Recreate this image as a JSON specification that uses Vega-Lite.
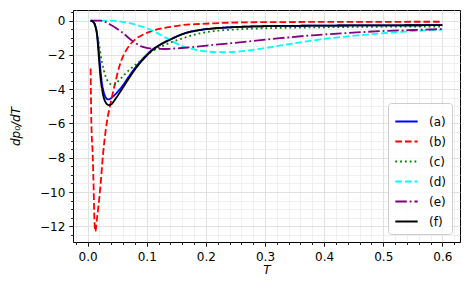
{
  "$schema": "https://vega.github.io/schema/vega-lite/v6.json",
  "width": 387,
  "height": 232,
  "autosize": {"type": "none"},
  "padding": {"left": 73, "top": 10, "right": 10, "bottom": 52},
  "background": "white",
  "config": {
    "view": {"stroke": "#000000", "strokeWidth": 1},
    "font": "DejaVu Sans",
    "axis": {
      "domain": false,
      "labelFont": "DejaVu Sans",
      "labelFontSize": 12,
      "labelColor": "#000000",
      "titleFont": "DejaVu Sans",
      "titleFontSize": 12,
      "titleFontWeight": "normal",
      "titleFontStyle": "italic",
      "titleColor": "#000000",
      "tickColor": "#000000",
      "tickWidth": 0.9,
      "gridWidth": 0.8,
      "labelOverlap": false,
      "labelFlush": false,
      "labelBound": false
    },
    "legend": {
      "labelFont": "DejaVu Sans",
      "labelFontSize": 12,
      "labelColor": "#000000"
    }
  },
  "data": {
    "values": [
      {"T": 0.005, "v": 0, "s": "(a)"},
      {"T": 0.01, "v": -0.1, "s": "(a)"},
      {"T": 0.013, "v": -0.3, "s": "(a)"},
      {"T": 0.016, "v": -0.8, "s": "(a)"},
      {"T": 0.019, "v": -1.8, "s": "(a)"},
      {"T": 0.022, "v": -3.0, "s": "(a)"},
      {"T": 0.026, "v": -4.0, "s": "(a)"},
      {"T": 0.03, "v": -4.45, "s": "(a)"},
      {"T": 0.0345, "v": -4.6, "s": "(a)"},
      {"T": 0.04, "v": -4.52, "s": "(a)"},
      {"T": 0.0468, "v": -4.3, "s": "(a)"},
      {"T": 0.058, "v": -3.85, "s": "(a)"},
      {"T": 0.069, "v": -3.3, "s": "(a)"},
      {"T": 0.0805, "v": -2.75, "s": "(a)"},
      {"T": 0.0946, "v": -2.18, "s": "(a)"},
      {"T": 0.1087, "v": -1.72, "s": "(a)"},
      {"T": 0.1256, "v": -1.34, "s": "(a)"},
      {"T": 0.1425, "v": -1.05, "s": "(a)"},
      {"T": 0.16, "v": -0.79, "s": "(a)"},
      {"T": 0.19, "v": -0.55, "s": "(a)"},
      {"T": 0.213, "v": -0.46, "s": "(a)"},
      {"T": 0.25, "v": -0.38, "s": "(a)"},
      {"T": 0.3, "v": -0.33, "s": "(a)"},
      {"T": 0.38, "v": -0.3, "s": "(a)"},
      {"T": 0.5, "v": -0.28, "s": "(a)"},
      {"T": 0.6, "v": -0.27, "s": "(a)"},

      {"T": 0.005, "v": -2.8, "s": "(b)"},
      {"T": 0.0062, "v": -5.85, "s": "(b)"},
      {"T": 0.0085, "v": -7.8, "s": "(b)"},
      {"T": 0.0101, "v": -9.75, "s": "(b)"},
      {"T": 0.0113, "v": -11.5, "s": "(b)"},
      {"T": 0.013, "v": -12.3, "s": "(b)"},
      {"T": 0.0159, "v": -11.5, "s": "(b)"},
      {"T": 0.0214, "v": -9.75, "s": "(b)"},
      {"T": 0.026, "v": -7.8, "s": "(b)"},
      {"T": 0.0328, "v": -5.85, "s": "(b)"},
      {"T": 0.0383, "v": -4.9, "s": "(b)"},
      {"T": 0.0468, "v": -3.6, "s": "(b)"},
      {"T": 0.0552, "v": -2.5, "s": "(b)"},
      {"T": 0.0665, "v": -1.66, "s": "(b)"},
      {"T": 0.0805, "v": -1.1, "s": "(b)"},
      {"T": 0.095, "v": -0.8, "s": "(b)"},
      {"T": 0.109, "v": -0.6, "s": "(b)"},
      {"T": 0.137, "v": -0.39, "s": "(b)"},
      {"T": 0.159, "v": -0.27, "s": "(b)"},
      {"T": 0.19, "v": -0.2, "s": "(b)"},
      {"T": 0.213, "v": -0.16, "s": "(b)"},
      {"T": 0.28, "v": -0.1, "s": "(b)"},
      {"T": 0.4, "v": -0.08, "s": "(b)"},
      {"T": 0.6, "v": -0.07, "s": "(b)"},

      {"T": 0.005, "v": 0, "s": "(c)"},
      {"T": 0.01, "v": -0.1, "s": "(c)"},
      {"T": 0.013, "v": -0.29, "s": "(c)"},
      {"T": 0.0186, "v": -1.27, "s": "(c)"},
      {"T": 0.0243, "v": -2.44, "s": "(c)"},
      {"T": 0.03, "v": -3.22, "s": "(c)"},
      {"T": 0.0383, "v": -3.7, "s": "(c)"},
      {"T": 0.044, "v": -3.76, "s": "(c)"},
      {"T": 0.0523, "v": -3.51, "s": "(c)"},
      {"T": 0.069, "v": -2.92, "s": "(c)"},
      {"T": 0.086, "v": -2.44, "s": "(c)"},
      {"T": 0.1087, "v": -1.8, "s": "(c)"},
      {"T": 0.1256, "v": -1.5, "s": "(c)"},
      {"T": 0.159, "v": -1.05, "s": "(c)"},
      {"T": 0.19, "v": -0.75, "s": "(c)"},
      {"T": 0.213, "v": -0.62, "s": "(c)"},
      {"T": 0.25, "v": -0.52, "s": "(c)"},
      {"T": 0.3, "v": -0.45, "s": "(c)"},
      {"T": 0.38, "v": -0.4, "s": "(c)"},
      {"T": 0.5, "v": -0.36, "s": "(c)"},
      {"T": 0.6, "v": -0.35, "s": "(c)"},

      {"T": 0.005, "v": 0, "s": "(d)"},
      {"T": 0.03, "v": 0, "s": "(d)"},
      {"T": 0.064, "v": -0.1, "s": "(d)"},
      {"T": 0.086, "v": -0.29, "s": "(d)"},
      {"T": 0.109, "v": -0.58, "s": "(d)"},
      {"T": 0.131, "v": -0.98, "s": "(d)"},
      {"T": 0.148, "v": -1.3, "s": "(d)"},
      {"T": 0.165, "v": -1.55, "s": "(d)"},
      {"T": 0.185, "v": -1.72, "s": "(d)"},
      {"T": 0.2, "v": -1.8, "s": "(d)"},
      {"T": 0.23, "v": -1.85, "s": "(d)"},
      {"T": 0.258, "v": -1.8, "s": "(d)"},
      {"T": 0.297, "v": -1.62, "s": "(d)"},
      {"T": 0.354, "v": -1.3, "s": "(d)"},
      {"T": 0.41, "v": -1.03, "s": "(d)"},
      {"T": 0.466, "v": -0.84, "s": "(d)"},
      {"T": 0.494, "v": -0.75, "s": "(d)"},
      {"T": 0.55, "v": -0.62, "s": "(d)"},
      {"T": 0.6, "v": -0.53, "s": "(d)"},

      {"T": 0.005, "v": 0, "s": "(e)"},
      {"T": 0.0215, "v": 0, "s": "(e)"},
      {"T": 0.03, "v": -0.08, "s": "(e)"},
      {"T": 0.041, "v": -0.29, "s": "(e)"},
      {"T": 0.058, "v": -0.68, "s": "(e)"},
      {"T": 0.075, "v": -1.17, "s": "(e)"},
      {"T": 0.092, "v": -1.52, "s": "(e)"},
      {"T": 0.109, "v": -1.64, "s": "(e)"},
      {"T": 0.131, "v": -1.66, "s": "(e)"},
      {"T": 0.159, "v": -1.6, "s": "(e)"},
      {"T": 0.185, "v": -1.52, "s": "(e)"},
      {"T": 0.213, "v": -1.42, "s": "(e)"},
      {"T": 0.269, "v": -1.23, "s": "(e)"},
      {"T": 0.325, "v": -1.03, "s": "(e)"},
      {"T": 0.38, "v": -0.86, "s": "(e)"},
      {"T": 0.438, "v": -0.73, "s": "(e)"},
      {"T": 0.494, "v": -0.62, "s": "(e)"},
      {"T": 0.55, "v": -0.55, "s": "(e)"},
      {"T": 0.6, "v": -0.5, "s": "(e)"},

      {"T": 0.005, "v": 0, "s": "(f)"},
      {"T": 0.01, "v": -0.1, "s": "(f)"},
      {"T": 0.013, "v": -0.35, "s": "(f)"},
      {"T": 0.016, "v": -0.9, "s": "(f)"},
      {"T": 0.0186, "v": -2.0, "s": "(f)"},
      {"T": 0.0214, "v": -3.2, "s": "(f)"},
      {"T": 0.0253, "v": -4.2, "s": "(f)"},
      {"T": 0.03, "v": -4.74, "s": "(f)"},
      {"T": 0.0355, "v": -4.93, "s": "(f)"},
      {"T": 0.04, "v": -4.88, "s": "(f)"},
      {"T": 0.0468, "v": -4.58, "s": "(f)"},
      {"T": 0.058, "v": -4.0, "s": "(f)"},
      {"T": 0.069, "v": -3.41, "s": "(f)"},
      {"T": 0.0805, "v": -2.83, "s": "(f)"},
      {"T": 0.0946, "v": -2.24, "s": "(f)"},
      {"T": 0.1087, "v": -1.75, "s": "(f)"},
      {"T": 0.1256, "v": -1.36, "s": "(f)"},
      {"T": 0.1425, "v": -1.07, "s": "(f)"},
      {"T": 0.16, "v": -0.8, "s": "(f)"},
      {"T": 0.19, "v": -0.55, "s": "(f)"},
      {"T": 0.213, "v": -0.46, "s": "(f)"},
      {"T": 0.25, "v": -0.38, "s": "(f)"},
      {"T": 0.3, "v": -0.33, "s": "(f)"},
      {"T": 0.38, "v": -0.3, "s": "(f)"},
      {"T": 0.5, "v": -0.28, "s": "(f)"},
      {"T": 0.6, "v": -0.27, "s": "(f)"}
    ]
  },
  "mark": {"type": "line", "strokeWidth": 1.8, "interpolate": "monotone", "clip": true},
  "encoding": {
    "x": {
      "field": "T",
      "type": "quantitative",
      "scale": {"domain": [-0.0248, 0.6298], "nice": false, "zero": false},
      "axis": {
        "title": "T",
        "values": [-0.02, 0, 0.02, 0.04, 0.06, 0.08, 0.1, 0.12, 0.14, 0.16, 0.18, 0.2, 0.22, 0.24, 0.26, 0.28, 0.3, 0.32, 0.34, 0.36, 0.38, 0.4, 0.42, 0.44, 0.46, 0.48, 0.5, 0.52, 0.54, 0.56, 0.58, 0.6, 0.62],
        "labelExpr": "abs(datum.value*10 - round(datum.value*10)) < 0.001 ? format(datum.value, '.1f') : ''",
        "tickSize": {"condition": {"test": "abs(datum.value*10 - round(datum.value*10)) < 0.001", "value": 4.2}, "value": 2.4},
        "gridColor": {"condition": {"test": "abs(datum.value*10 - round(datum.value*10)) < 0.001", "value": "#d9d9d9"}, "value": "#ebebeb"},
        "labelPadding": 5,
        "titlePadding": 2
      }
    },
    "y": {
      "field": "v",
      "type": "quantitative",
      "scale": {"domain": [-12.915, 0.615], "nice": false, "zero": false},
      "axis": {
        "title": "dp₀/dT",
        "values": [-12.5, -12, -11.5, -11, -10.5, -10, -9.5, -9, -8.5, -8, -7.5, -7, -6.5, -6, -5.5, -5, -4.5, -4, -3.5, -3, -2.5, -2, -1.5, -1, -0.5, 0, 0.5],
        "labelExpr": "abs(datum.value/2 - round(datum.value/2)) < 0.001 ? replace(format(datum.value, 'd'), '-', '−') : ''",
        "tickSize": {"condition": {"test": "abs(datum.value/2 - round(datum.value/2)) < 0.001", "value": 4.2}, "value": 2.4},
        "gridColor": {"condition": {"test": "abs(datum.value/2 - round(datum.value/2)) < 0.001", "value": "#d9d9d9"}, "value": "#ebebeb"},
        "labelPadding": 4,
        "titlePadding": 17
      }
    },
    "color": {
      "field": "s",
      "type": "nominal",
      "scale": {"domain": ["(a)", "(b)", "(c)", "(d)", "(e)", "(f)"], "range": ["#0000ff", "#ff0000", "#008000", "#00ffff", "#800080", "#000000"]},
      "legend": {
        "title": null,
        "orient": "bottom-right",
        "offset": 8,
        "symbolType": "stroke",
        "symbolSize": 500,
        "symbolStrokeWidth": 1.8,
        "labelOffset": 10,
        "rowPadding": 1,
        "padding": 6,
        "strokeColor": "#cccccc",
        "fillColor": "rgba(255,255,255,0.8)",
        "cornerRadius": 3
      }
    },
    "strokeDash": {
      "field": "s",
      "type": "nominal",
      "scale": {"domain": ["(a)", "(b)", "(c)", "(d)", "(e)", "(f)"], "range": [[1, 0], [6.7, 2.9], [1.8, 3.0], [6.7, 2.9], [11.5, 2.9, 1.8, 2.9], [1, 0]]},
      "legend": null
    }
  }
}
